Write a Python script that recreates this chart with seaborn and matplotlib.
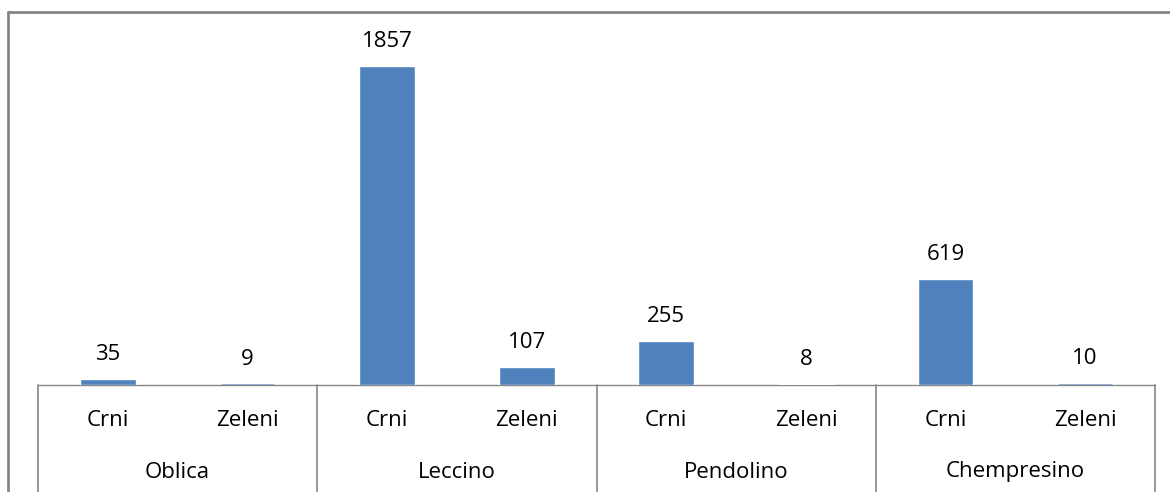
import matplotlib
matplotlib.use("Agg")
import matplotlib.pyplot as plt
import matplotlib.transforms as mtransforms
from matplotlib.lines import Line2D
import pandas as pd
import seaborn as sns

# ----------------------------------------------------------------------------
# data
# ----------------------------------------------------------------------------
varieties = ["Oblica", "Leccino", "Pendolino", "Chempresino"]
kinds = ["Crni", "Zeleni"]
counts = [35, 9, 1857, 107, 255, 8, 619, 10]

rows = []
for i, v in enumerate(varieties):
    for j, k in enumerate(kinds):
        rows.append({"key": f"{v}|{k}", "variety": v, "kind": k,
                     "count": counts[i * len(kinds) + j]})
df = pd.DataFrame(rows)

# ----------------------------------------------------------------------------
# plot
# ----------------------------------------------------------------------------
sns.set_theme(style="white")
plt.rcParams["font.family"] = ["Open Sans", "DejaVu Sans"]

W, H = 1170, 492
FS = 16
fig = plt.figure(figsize=(W / 100, H / 100), dpi=100)
ax = fig.add_axes([38 / W, (H - 385) / H, (1155 - 38) / W, (385 - 41) / H])

sns.barplot(data=df, x="key", y="count", order=df["key"], color="#4F81BD",
            saturation=1, width=0.4, ax=ax, zorder=3)
ax.set_ylim(0, 2000)
ax.set_xlim(-0.5, len(df) - 0.5)

for c in ax.containers:
    ax.bar_label(c, padding=10, fontsize=FS, color="black")

for s in ["top", "right", "left"]:
    ax.spines[s].set_visible(False)
ax.spines["bottom"].set_color("#868686")
ax.spines["bottom"].set_linewidth(1.0)
ax.spines["bottom"].set_zorder(2)
ax.set_xticks([])
ax.set_yticks([])
ax.set_xlabel("")
ax.set_ylabel("")

# multi-level category axis
trans = mtransforms.blended_transform_factory(ax.transData, ax.transAxes)
px = 1 / (385 - 41)  # one pixel in axes units (vertical)
for i, k in enumerate(df["kind"]):
    ax.text(i, -(420 - 385) * px, k, transform=trans, ha="center",
            va="center", fontsize=FS, color="black")
n = len(kinds)
for g, v in enumerate(varieties):
    ax.text(g * n + (n - 1) / 2, -(472 - 385) * px, v, transform=trans,
            ha="center", va="center", fontsize=FS, color="black")
for g in range(len(varieties) + 1):
    ax.plot([g * n - 0.5, g * n - 0.5], [0, -(H - 385) * px], transform=trans,
            color="#868686", lw=1.2, clip_on=False)

# outer chart frame (cut off on the right/bottom like the original)
fig.add_artist(Line2D([7.5 / W, 7.5 / W], [0, (H - 12) / H], color="#868686", lw=2))
fig.add_artist(Line2D([7.5 / W, 1.0], [(H - 12) / H, (H - 12) / H], color="#868686", lw=2))

fig.savefig("out.png", dpi=100)
